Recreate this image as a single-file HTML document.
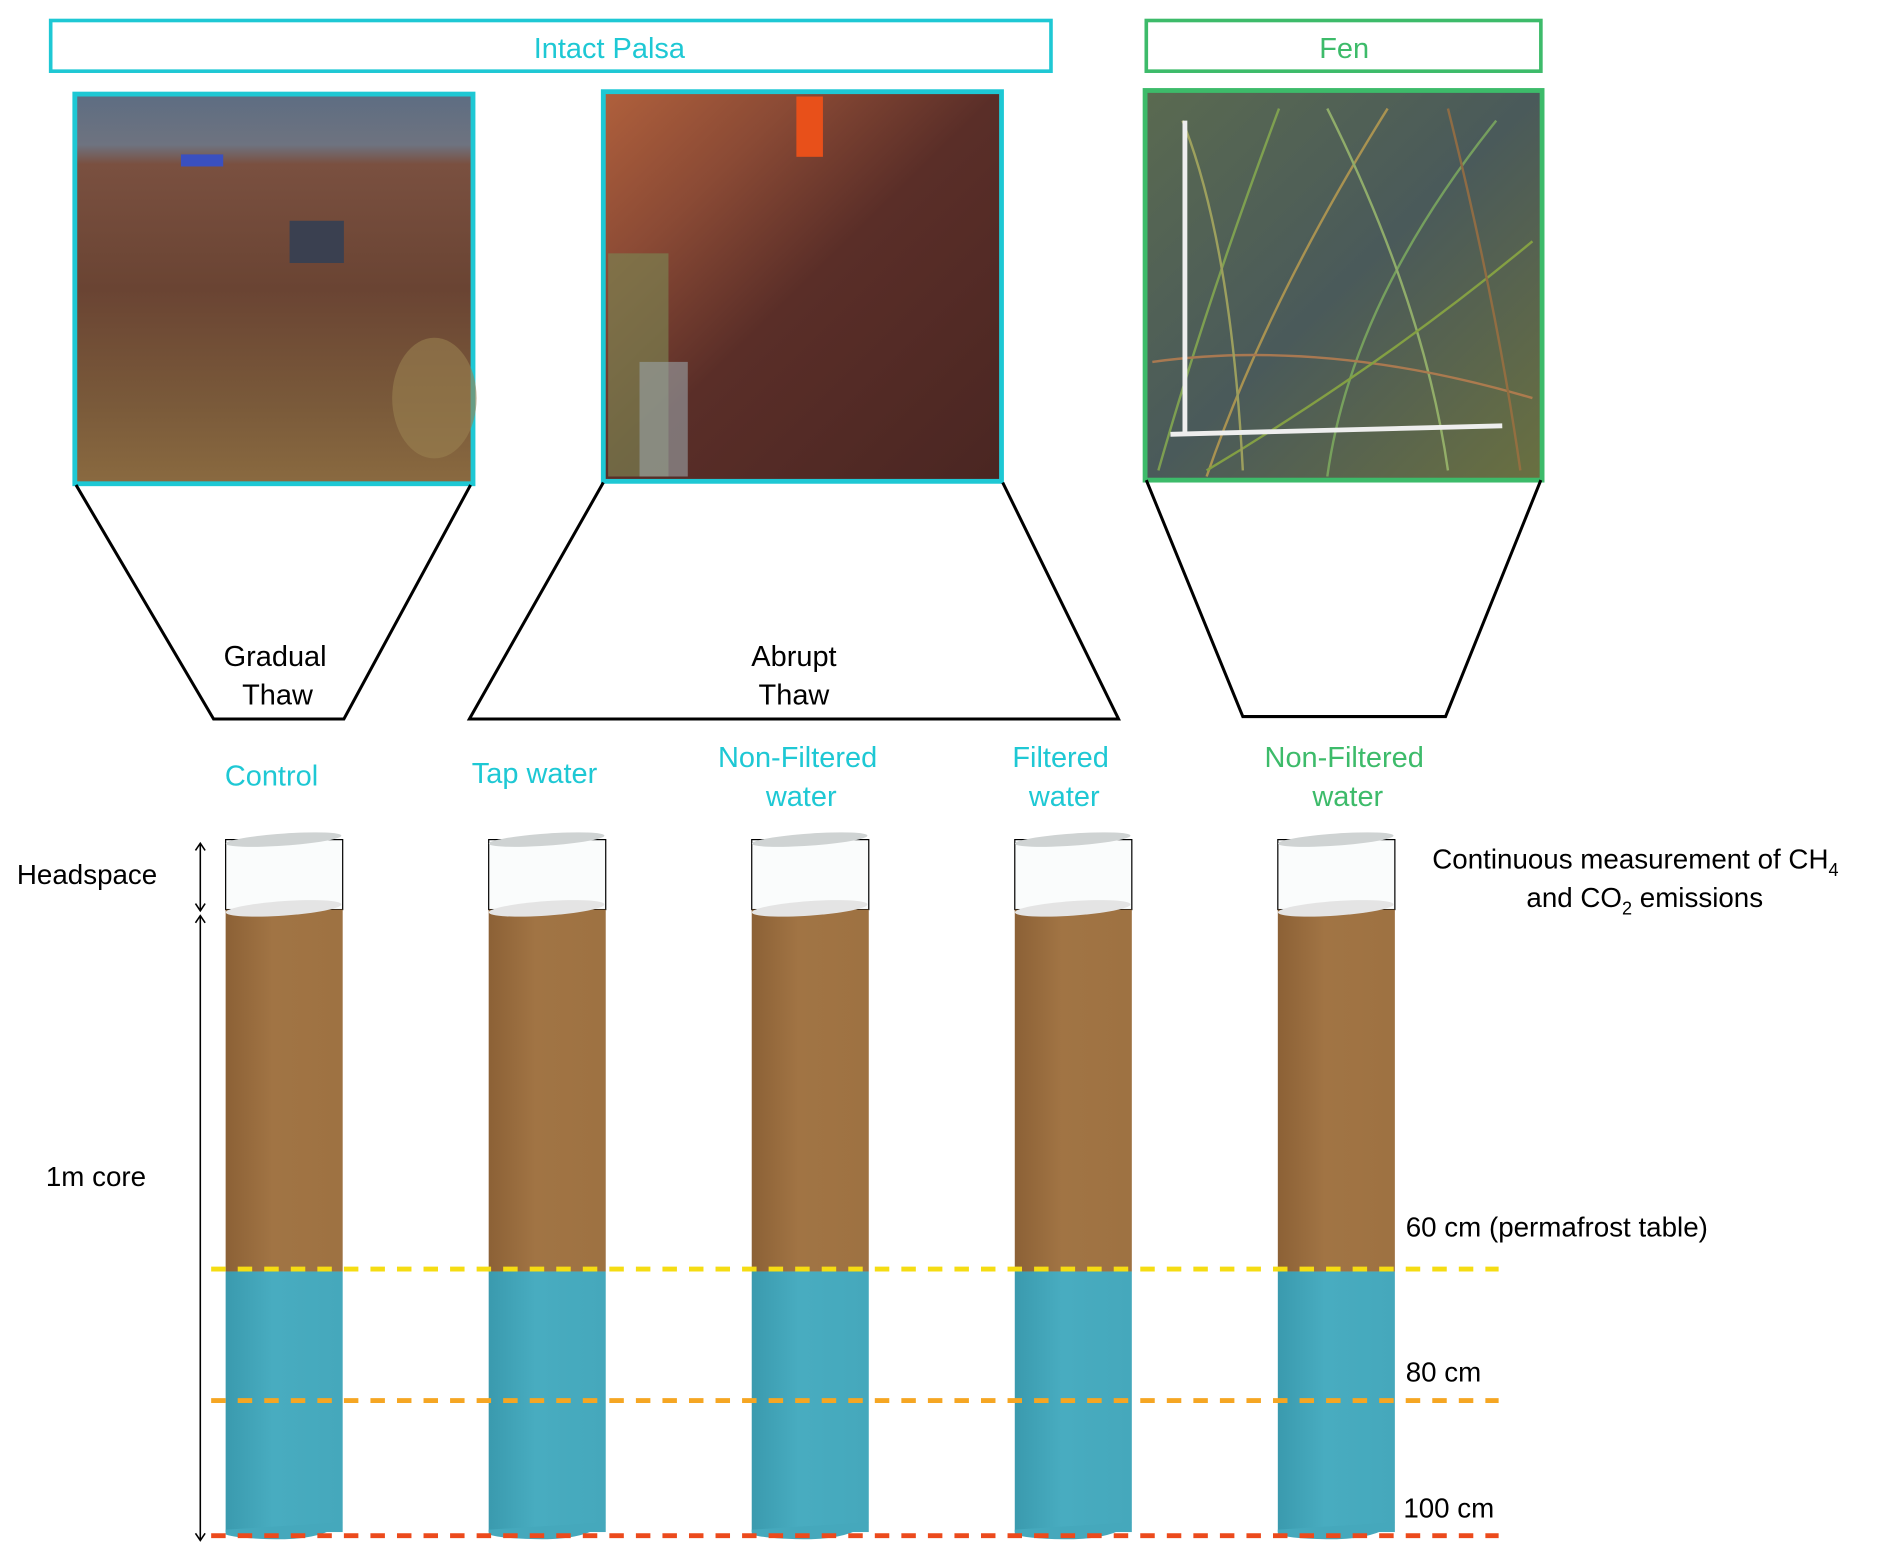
<!DOCTYPE html>
<html><head><meta charset="utf-8"><style>
html,body{margin:0;padding:0;background:#fff;}
svg{display:block;}
text{font-family:"Liberation Sans",sans-serif;}
</style></head><body>
<svg width="1892" height="1561" viewBox="0 0 1568 1294" preserveAspectRatio="none" xmlns="http://www.w3.org/2000/svg">
<defs>
<linearGradient id="p1" x1="0" y1="0" x2="0" y2="1">
<stop offset="0" stop-color="#5d6d82"/><stop offset="0.13" stop-color="#6e7380"/><stop offset="0.18" stop-color="#7a5040"/><stop offset="0.5" stop-color="#6a4433"/><stop offset="0.8" stop-color="#7a5a3a"/><stop offset="1" stop-color="#8a6a40"/>
</linearGradient>
<linearGradient id="p2" x1="0" y1="0" x2="1" y2="1">
<stop offset="0" stop-color="#b0603c"/><stop offset="0.25" stop-color="#8a4a35"/><stop offset="0.5" stop-color="#5a2e28"/><stop offset="1" stop-color="#4a2622"/>
</linearGradient>
<linearGradient id="p3" x1="0" y1="0" x2="1" y2="1">
<stop offset="0" stop-color="#5a6a50"/><stop offset="0.5" stop-color="#4a5a5a"/><stop offset="1" stop-color="#6a7040"/>
</linearGradient>
<linearGradient id="br" x1="0" y1="0" x2="1" y2="0">
<stop offset="0" stop-color="#8c6136"/><stop offset="0.4" stop-color="#a17444"/><stop offset="1" stop-color="#9e7242"/>
</linearGradient>
<linearGradient id="bl" x1="0" y1="0" x2="1" y2="0">
<stop offset="0" stop-color="#3a9aae"/><stop offset="0.4" stop-color="#48acc0"/><stop offset="1" stop-color="#45a8bc"/>
</linearGradient>
</defs>

<rect x="42" y="17" width="829" height="42" fill="none" stroke="#1ec8d4" stroke-width="3"/>
<text x="505" y="48" font-size="24" fill="#1ec8d4" text-anchor="middle">Intact Palsa</text>
<rect x="950" y="17" width="327" height="42" fill="none" stroke="#3dbb6a" stroke-width="3"/>
<text x="1114" y="48" font-size="24" fill="#3dbb6a" text-anchor="middle">Fen</text>

<rect x="62" y="78" width="330" height="323" fill="url(#p1)" stroke="#1ec8d4" stroke-width="4"/>
<rect x="240" y="183" width="45" height="35" fill="#3a4050"/>
<rect x="150" y="128" width="35" height="10" fill="#3a50c0"/>
<ellipse cx="360" cy="330" rx="35" ry="50" fill="#9a8050" opacity="0.6"/>
<rect x="500" y="76" width="330" height="323" fill="url(#p2)" stroke="#1ec8d4" stroke-width="4"/>
<rect x="504" y="210" width="50" height="185" fill="#7a8050" opacity="0.7"/>
<rect x="530" y="300" width="40" height="95" fill="#9aa4a8" opacity="0.6"/>
<rect x="660" y="80" width="22" height="50" fill="#e8501a"/>
<rect x="949" y="75" width="329" height="323" fill="url(#p3)" stroke="#3dbb6a" stroke-width="4"/>
<g stroke-width="2" fill="none" opacity="0.8">
<path d="M960 390 Q1000 250 1060 90" stroke="#8ab050"/><path d="M1000 395 Q1050 250 1150 90" stroke="#c0a050"/>
<path d="M1100 395 Q1120 250 1240 100" stroke="#80b060"/><path d="M1200 390 Q1180 250 1100 90" stroke="#a0c070"/>
<path d="M955 300 Q1100 280 1270 330" stroke="#c08050"/><path d="M1270 200 Q1150 300 1000 390" stroke="#90b040"/>
<path d="M1030 390 Q1020 200 980 100" stroke="#b0b060"/><path d="M1260 390 Q1240 250 1200 90" stroke="#a07040"/>
</g>
<line x1="982" y1="100" x2="982" y2="360" stroke="#eee" stroke-width="4"/>
<line x1="970" y1="360" x2="1245" y2="353" stroke="#eee" stroke-width="4"/>

<g fill="none" stroke="#000" stroke-width="2.5">
<polyline points="63,402 177,596 285,596 390,402"/>
<polyline points="500,400 389,596 927,596 831,400"/>
<polyline points="950,398 1030,594 1198,594 1277,398"/>
</g>
<g font-size="24" fill="#000" text-anchor="middle">
<text x="228" y="552">Gradual</text><text x="230" y="584">Thaw</text>
<text x="658" y="552">Abrupt</text><text x="658" y="584">Thaw</text>
</g>
<g font-size="24" fill="#1ec8d4" text-anchor="middle">
<text x="225" y="651">Control</text>
<text x="443" y="649">Tap water</text>
<text x="661" y="636">Non-Filtered</text><text x="664" y="668">water</text>
<text x="879" y="636">Filtered</text><text x="882" y="668">water</text>
</g>
<g font-size="24" fill="#3dbb6a" text-anchor="middle">
<text x="1114" y="636">Non-Filtered</text><text x="1117" y="668">water</text>
</g>

<g id="cyl">
<rect x="187" y="696" width="97" height="58" fill="#fafcfc" stroke="#000" stroke-width="1"/>
<rect x="187" y="754" width="97" height="300" fill="url(#br)"/>
<rect x="187" y="1054" width="97" height="216" fill="url(#bl)"/>
<path d="M187 1268 L284 1262 Q270 1275 236 1276 Q200 1276 187 1272 Z" fill="#45a8bc"/>
<ellipse cx="235" cy="696" rx="48" ry="5" transform="rotate(-4 235 696)" fill="#cfd3d3"/>
<ellipse cx="235" cy="753" rx="48" ry="6" transform="rotate(-4 235 753)" fill="#e4e4e4"/>
</g>
<use href="#cyl" x="218"/>
<use href="#cyl" x="436"/>
<use href="#cyl" x="654"/>
<use href="#cyl" x="872"/>

<g stroke-width="4" stroke-dasharray="12 10" fill="none">
<line x1="175" y1="1052" x2="1242" y2="1052" stroke="#f5dc12"/>
<line x1="175" y1="1161" x2="1242" y2="1161" stroke="#f5a623"/>
<line x1="175" y1="1273" x2="1242" y2="1273" stroke="#ec4a1c"/>
</g>

<g stroke="#000" stroke-width="1.3" fill="none">
<line x1="166" y1="699" x2="166" y2="755"/>
<polyline points="162,705 166,699 170,705"/><polyline points="162,749 166,755 170,749"/>
<line x1="166" y1="759" x2="166" y2="1277"/>
<polyline points="162,765 166,759 170,765"/><polyline points="162,1271 166,1277 170,1271"/>
</g>

<g font-size="23" fill="#000">
<text x="14" y="733">Headspace</text>
<text x="38" y="983">1m core</text>
<text x="1187" y="720">Continuous measurement of CH<tspan font-size="15" dy="6">4</tspan></text>
<text x="1265" y="752">and CO<tspan font-size="15" dy="6">2</tspan><tspan dy="-6"> emissions</tspan></text>
<text x="1165" y="1025">60 cm (permafrost table)</text>
<text x="1165" y="1145">80 cm</text>
<text x="1163" y="1258">100 cm</text>
</g>
</svg>
</body></html>
